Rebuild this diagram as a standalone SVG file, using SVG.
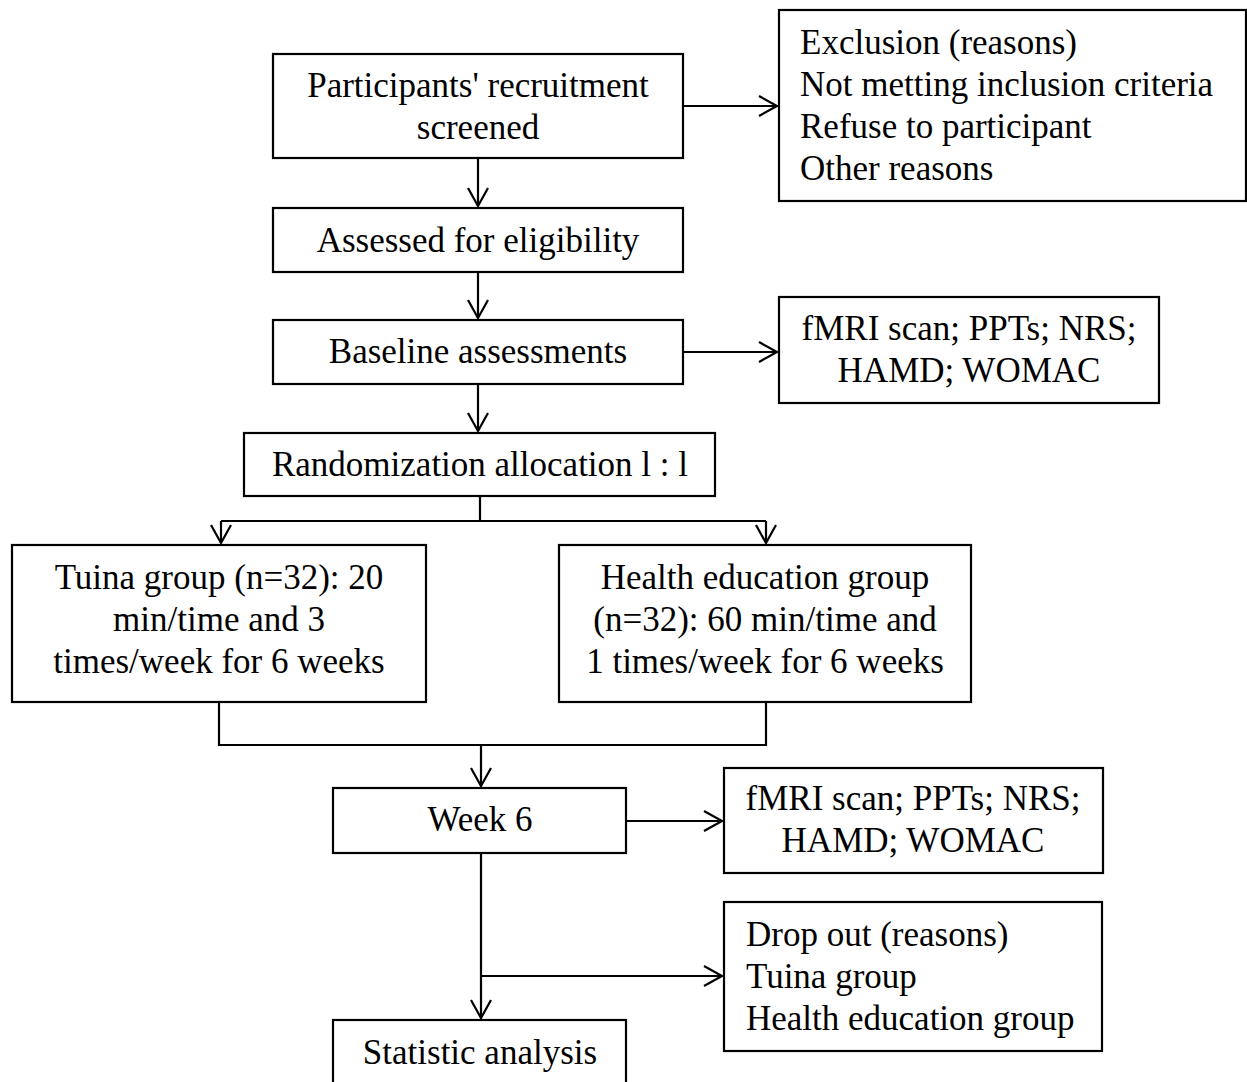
<svg xmlns="http://www.w3.org/2000/svg" width="1247" height="1082" viewBox="0 0 1247 1082">
<style>
.box{fill:#fff;stroke:#000;stroke-width:2.2}
.t{font-family:"Liberation Serif","Times New Roman",serif;font-size:35px;fill:#000}
.c{text-anchor:middle}
.ln{fill:none;stroke:#000;stroke-width:2.2}
.ah{fill:none;stroke:#000;stroke-width:2.2}
</style>
<rect width="1247" height="1082" fill="#fff"/>
<g id="connectors">
<path class="ln" d="M683,106 H777"/><path class="ah" d="M759,96 L777,106 L759,116"/>
<path class="ln" d="M478,158 V206"/><path class="ah" d="M468,188 L478,206 L488,188"/>
<path class="ln" d="M478,272 V318"/><path class="ah" d="M468,300 L478,318 L488,300"/>
<path class="ln" d="M683,352 H777"/><path class="ah" d="M759,342 L777,352 L759,362"/>
<path class="ln" d="M478,384 V431"/><path class="ah" d="M468,413 L478,431 L488,413"/>
<path class="ln" d="M480,496 V521 M221,521 H766 M221,521 V543 M766,521 V543"/>
<path class="ah" d="M211,525 L221,543 L231,525"/><path class="ah" d="M756,525 L766,543 L776,525"/>
<path class="ln" d="M219,702 V745 H766 V702 M481,745 V786"/>
<path class="ah" d="M471,768 L481,786 L491,768"/>
<path class="ln" d="M626,821 H722"/><path class="ah" d="M704,811 L722,821 L704,831"/>
<path class="ln" d="M481,853 V1018 M481,976 H722"/>
<path class="ah" d="M471,1000 L481,1018 L491,1000"/><path class="ah" d="M704,966 L722,976 L704,986"/>
</g>
<g id="n1"><rect class="box" x="273" y="54" width="410" height="104"/>
<text class="t c" x="478" y="97">Participants' recruitment</text><text class="t c" x="478" y="139">screened</text></g>
<g id="n2"><rect class="box" x="779" y="10" width="467" height="191"/>
<text class="t" x="800" y="54">Exclusion (reasons)</text><text class="t" x="800" y="96">Not metting inclusion criteria</text><text class="t" x="800" y="138">Refuse to participant</text><text class="t" x="800" y="180">Other reasons</text></g>
<g id="n3"><rect class="box" x="273" y="208" width="410" height="64"/>
<text class="t c" x="478" y="252">Assessed for eligibility</text></g>
<g id="n4"><rect class="box" x="273" y="320" width="410" height="64"/>
<text class="t c" x="478" y="363">Baseline assessments</text></g>
<g id="n5"><rect class="box" x="779" y="297" width="380" height="106"/>
<text class="t c" x="969" y="340">fMRI scan; PPTs; NRS;</text><text class="t c" x="969" y="382">HAMD; WOMAC</text></g>
<g id="n6"><rect class="box" x="244" y="433" width="471" height="63"/>
<text class="t c" x="480" y="476">Randomization allocation l : l</text></g>
<g id="n7"><rect class="box" x="12" y="545" width="414" height="157"/>
<text class="t c" x="219" y="589">Tuina group (n=32): 20</text><text class="t c" x="219" y="631">min/time and 3</text><text class="t c" x="219" y="673">times/week for 6 weeks</text></g>
<g id="n8"><rect class="box" x="559" y="545" width="412" height="157"/>
<text class="t c" x="765" y="589">Health education group</text><text class="t c" x="765" y="631">(n=32): 60 min/time and</text><text class="t c" x="765" y="673">1 times/week for 6 weeks</text></g>
<g id="n9"><rect class="box" x="333" y="788" width="293" height="65"/>
<text class="t c" x="480" y="831">Week 6</text></g>
<g id="n10"><rect class="box" x="724" y="768" width="379" height="105"/>
<text class="t c" x="913" y="810">fMRI scan; PPTs; NRS;</text><text class="t c" x="913" y="852">HAMD; WOMAC</text></g>
<g id="n11"><rect class="box" x="724" y="902" width="378" height="149"/>
<text class="t" x="746" y="946">Drop out (reasons)</text><text class="t" x="746" y="988">Tuina group</text><text class="t" x="746" y="1030">Health education group</text></g>
<g id="n12"><rect class="box" x="333" y="1020" width="293" height="80"/>
<text class="t c" x="480" y="1064">Statistic analysis</text></g>
</svg>
